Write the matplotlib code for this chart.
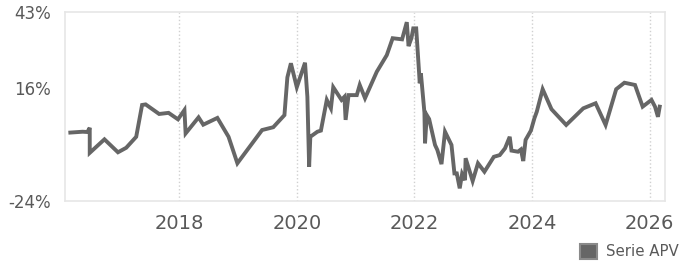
import matplotlib.pyplot as plt
from matplotlib.patches import Patch

# fecha en años decimales, rentabilidad en %
years = [2016.15, 2016.36, 2016.44, 2016.48, 2016.48, 2016.73, 2016.96, 2017.10, 2017.27, 2017.37,
         2017.43, 2017.66, 2017.82, 2017.98, 2018.09, 2018.11, 2018.33, 2018.41, 2018.65, 2018.84,
         2018.99, 2019.41, 2019.60, 2019.79, 2019.84, 2019.90, 2020.00, 2020.14, 2020.18, 2020.21,
         2020.23, 2020.35, 2020.41, 2020.51, 2020.58, 2020.62, 2020.76, 2020.81, 2020.83, 2020.88,
         2021.02, 2021.07, 2021.16, 2021.36, 2021.53, 2021.63, 2021.79, 2021.87, 2021.90, 2021.95,
         2021.98, 2022.03, 2022.08, 2022.09, 2022.11, 2022.17, 2022.18, 2022.21, 2022.25, 2022.35,
         2022.39, 2022.46, 2022.52, 2022.63, 2022.68, 2022.72, 2022.77, 2022.81, 2022.86, 2022.87,
         2022.99, 2023.08, 2023.19, 2023.35, 2023.45, 2023.54, 2023.62, 2023.65, 2023.76, 2023.81,
         2023.85, 2023.89, 2023.98, 2024.04, 2024.08, 2024.18, 2024.33, 2024.58, 2024.87, 2025.08,
         2025.25, 2025.43, 2025.57, 2025.75, 2025.88, 2026.03, 2026.09, 2026.14, 2026.17]
serie_apv = [0.3, 0.6, 0.5, 2.0, -6.9, -2.1, -6.7, -5.1, -1.2, 10.1,
             10.3, 6.9, 7.3, 5.0, 8.3, 0.0, 5.7, 3.1, 5.5, -1.2,
             -10.6, 1.2, 2.2, 6.5, 19.9, 24.9, 16.4, 25.1, 13.0, -11.8,
             -1.2, 0.6, 1.0, 11.9, 8.9, 16.4, 11.9, 13.0, 4.8, 13.6,
             13.6, 17.2, 12.5, 21.9, 27.8, 33.8, 33.4, 39.5, 31.0, 33.9,
             37.3, 37.3, 21.3, 17.8, 21.3, 7.4, -3.5, 6.5, 5.1, -4.1,
             -5.9, -10.9, 0.6, -4.1, -14.2, -14.2, -19.5, -14.4, -16.6, -8.8,
             -16.9, -10.6, -13.6, -8.3, -7.7, -5.3, -1.2, -6.1, -6.5, -5.7,
             -9.8, -2.3, 1.0, 5.4, 7.7, 15.7, 8.6, 3.0, 8.9, 10.7,
             3.0, 15.7, 18.0, 17.2, 9.5, 11.9, 9.5, 5.9, 9.5]

x_ticks = [2018, 2020, 2022, 2024, 2026]
y_ticks = [-24, 16, 43]
y_labels = ['-24%', '16%', '43%']

fig = plt.figure(figsize=(6.86, 2.63), dpi=100)
ax = fig.add_axes([0.0948, 0.2357, 0.8746, 0.7175])

ax.plot(years, serie_apv, color='#666666', linewidth=2.8, solid_joinstyle='miter')

ax.set_xlim(2016.06, 2026.26)
ax.set_ylim(-24, 43)
ax.set_xticks(x_ticks)
ax.set_xticklabels([str(y) for y in x_ticks], fontsize=14, color='#595959')
ax.set_yticks(y_ticks)
ax.set_yticklabels(y_labels, fontsize=12, color='#595959')
ax.tick_params(axis='x', length=0, pad=9)
ax.tick_params(axis='y', length=0, pad=10)

ax.grid(axis='x', color='#d0d0d0', linestyle=':', linewidth=1)
for s in ax.spines.values():
    s.set_color('#e6e6e6')
    s.set_linewidth(1.2)

handle = Patch(facecolor='#666666', edgecolor='#8a8a8a', linewidth=1.5, label='Serie APV')
fig.legend(handles=[handle], loc='lower right', bbox_to_anchor=(1.0, -0.015), frameon=False,
           fontsize=10.8, handlelength=1.1, handleheight=1.1, handletextpad=0.6,
           labelcolor='#595959', borderaxespad=0.1)

fig.savefig('out.png', dpi=100)
